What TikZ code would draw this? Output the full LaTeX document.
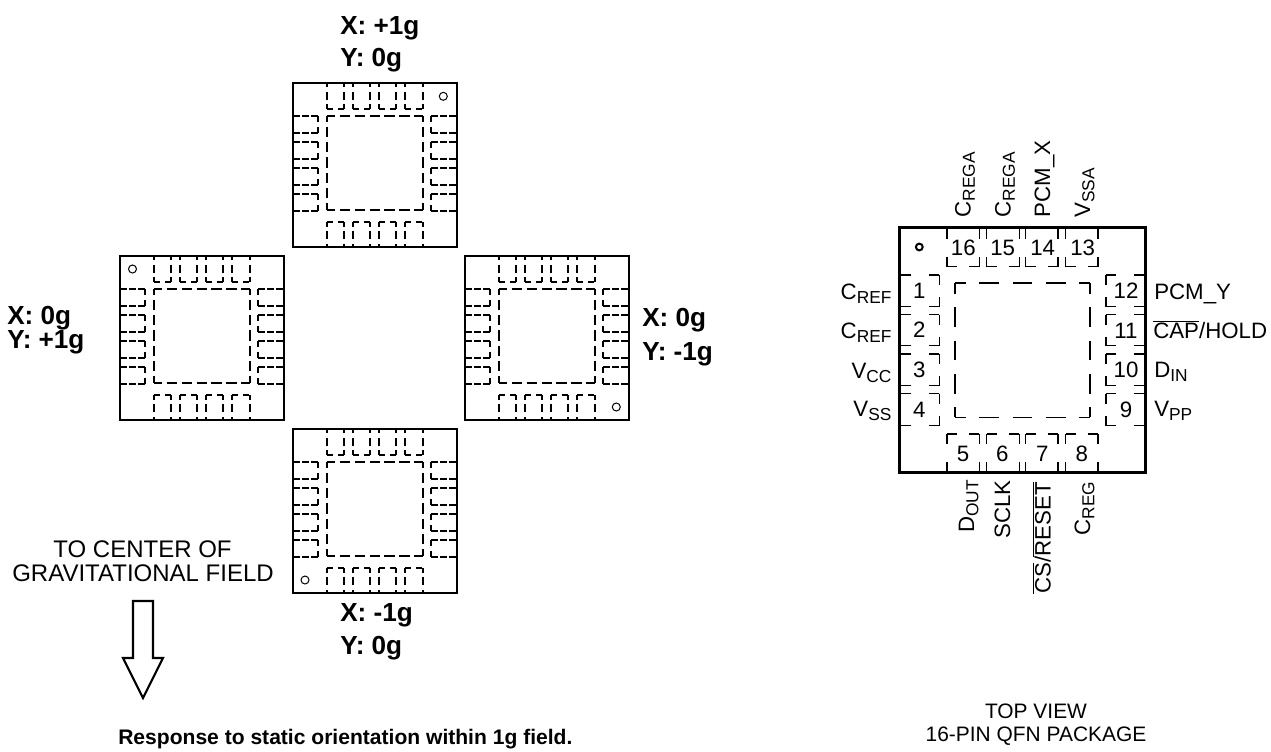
\documentclass[tikz,border=0pt]{standalone}
\usepackage{fontspec}
\setmainfont{Liberation Sans}
\newcommand{\fs}{\fontsize{16.7pt}{19pt}\selectfont}
\newcommand{\fc}{\fontsize{15.7pt}{18pt}\selectfont}
\newcommand{\fg}{\fontsize{18pt}{21pt}\selectfont}
\newcommand{\sbs}[1]{\raisebox{-3.2pt}{\fontsize{13pt}{15pt}\selectfont #1}}
\newcommand{\ovl}[1]{$\overline{\mbox{#1}}$}
\tikzset{
  txt/.style={inner sep=0pt,font=\fs},
  captxt/.style={inner sep=0pt,font=\fc},
  gravtxt/.style={inner sep=0pt,font=\fg},
  bcap/.style={inner sep=0pt,font=\fontsize{15.8pt}{18pt}\selectfont\bfseries},
  btxt/.style={inner sep=0pt,font=\fontsize{19.6pt}{22pt}\selectfont\bfseries},
  outer/.style={line width=1.6pt,line join=miter},
  padd/.style={line width=1.3pt},
  topdepth/.style={padd,dash pattern=on 4pt off 2.5pt on 6.5pt off 3.5pt on 10pt off 1pt},
  leftdepth/.style={padd,dash pattern=on 5pt off 1.75pt on 5.25pt off 1.75pt on 10pt off 1pt},
  padwide/.style={padd,dash pattern=on 4.5pt off 3.75pt on 4.5pt off 20pt},
  innerh/.style={padd,dash pattern=on 7.7pt off 3.5pt,dash phase=1.7pt},
  innerv/.style={padd,dash pattern=on 7.9pt off 3.6pt,dash phase=3.6pt},
  pindot/.style={line width=0.75pt},
  bigouter/.style={line width=2pt},
  bigpad/.style={line width=1pt},
  bigw/.style={bigpad,dash pattern=on 7.5pt off 9pt on 7.5pt off 30pt},
  bigd/.style={bigpad,dash pattern=on 7.5pt off 13.5pt on 8pt off 30pt},
  biginner/.style={bigpad,dash pattern=on 8pt off 10.3pt on 14.7pt off 10.3pt on 14.7pt off 10.3pt on 14.7pt off 10.3pt on 8pt off 30pt},
  bigarrow/.style={line width=1.6pt,line join=miter}
}
% small package: #1,#2 top-left corner; #3,#4 pin-dot position relative to corner
\newcommand{\pkg}[4]{%
\begin{scope}[shift={(#1,#2)}]
  \draw[outer] (0,0) rectangle (164,164);
  \foreach \a/\b in {34/51,60/77,86/103,112/130}{
    \draw[topdepth] (\a,26) -- (\a,0);
    \draw[topdepth] (\b,26) -- (\b,0);
    \draw[padwide] (\a,26) -- (\b,26);
    \draw[topdepth] (\a,139) -- (\a,164);
    \draw[topdepth] (\b,139) -- (\b,164);
    \draw[padwide] (\a,139) -- (\b,139);
  }
  \foreach \a/\b in {33/50,59/76,85/102,111/128}{
    \draw[leftdepth] (25,\a) -- (0,\a);
    \draw[leftdepth] (25,\b) -- (0,\b);
    \draw[padwide] (25,\a) -- (25,\b);
    \draw[leftdepth] (138,\a) -- (164,\a);
    \draw[leftdepth] (138,\b) -- (164,\b);
    \draw[padwide] (138,\a) -- (138,\b);
  }
  \draw[innerh] (34,33) -- (130,33);
  \draw[innerh] (34,127) -- (130,127);
  \draw[innerv] (34,33) -- (34,127);
  \draw[innerv] (130,33) -- (130,127);
  \draw[pindot] (#3,#4) circle (4);
\end{scope}}
\begin{document}
\begin{tikzpicture}[x=0.75pt,y=-0.75pt]
\useasboundingbox (0,0) rectangle (1271,751);
\pkg{293}{83}{150.3}{13.3}
\pkg{120}{256}{12.5}{13}
\pkg{465}{256}{151.3}{151}
\pkg{293}{429}{12}{151}

\node[btxt,anchor=base west] (t1) at (340,34.5) {X: +1g};
\node[btxt,anchor=base west] (t2) at (340,66) {Y: 0g};
\node[btxt,anchor=base west] (t3) at (7,324) {X: 0g};
\node[btxt,anchor=base west] (t4) at (7,348) {Y: +1g};
\node[btxt,anchor=base west] (t5) at (642,326.7) {X: 0g};
\node[btxt,anchor=base west] (t6) at (642,360.7) {Y: -1g};
\node[btxt,anchor=base west] (t7) at (340,621) {X: -1g};
\node[btxt,anchor=base west] (t8) at (340,654) {Y: 0g};
\node[gravtxt,anchor=base] (g1) at (142.5,557) {TO CENTER OF};
\node[gravtxt,anchor=base] (g2) at (143,581.7) {GRAVITATIONAL FIELD};
\node[bcap,anchor=base west] (cap) at (118,744.5) {Response to static orientation within 1g field.};
\node[captxt,anchor=base] (tv) at (1036,718) {TOP VIEW};
\node[captxt,anchor=base] (qfn) at (1036,741) {16-PIN QFN PACKAGE};

\draw[bigarrow] (133,601) -- (153,601) -- (153,658) -- (163,658) -- (143,698) -- (123,658) -- (133,658) -- cycle;

% large package
\draw[bigouter] (899.5,227.7) rectangle (1145.7,472.7);
\draw[line width=1.5pt] (919.3,247) circle (3.4);
\foreach \a/\b in {947/979.3,986.7/1019.3,1025.7/1058,1065.7/1098}{
  \draw[bigd] (\a,266.7) -- (\a,227.7);
  \draw[bigd] (\b,266.7) -- (\b,227.7);
  \draw[bigw] (\a,266.7) -- (\b,266.7);
  \draw[bigd] (\a,434) -- (\a,472.7);
  \draw[bigd] (\b,434) -- (\b,472.7);
  \draw[bigw] (\a,434) -- (\b,434);
}
\foreach \a/\b in {275/306.7,314.7/345.7,354/385.7,393.7/425.7}{
  \draw[bigd] (939.3,\a) -- (899.5,\a);
  \draw[bigd] (939.3,\b) -- (899.5,\b);
  \draw[bigw] (939.3,\a) -- (939.3,\b);
  \draw[bigd] (1106,\a) -- (1145.7,\a);
  \draw[bigd] (1106,\b) -- (1145.7,\b);
  \draw[bigw] (1106,\a) -- (1106,\b);
}
\draw[biginner] (955,283) -- (1090,283);
\draw[biginner] (955,417.3) -- (1090,417.3);
\draw[biginner] (955,283) -- (955,417.3);
\draw[biginner] (1090,283) -- (1090,417.3);

% pin numbers
\foreach \n/\x/\y in {16/963.3/255,15/1002.7/255,14/1042.7/255,13/1082.7/255,
  1/919.3/298.3,2/919.3/337.7,3/919.3/377.7,4/919.3/417,
  12/1126/298.3,11/1126/338,10/1126/377.7,9/1126/417.7,
  5/963/461,6/1002.3/461,7/1042.3/461,8/1081.7/461}{
  \node[txt,anchor=base] (n\n) at (\x,\y) {\n};
}
% left/right labels
\node[txt,anchor=base east] (l1) at (891.7,299) {C\sbs{REF}};
\node[txt,anchor=base east] (l2) at (891.7,338.7) {C\sbs{REF}};
\node[txt,anchor=base east] (l3) at (891.7,378) {V\sbs{CC}};
\node[txt,anchor=base east] (l4) at (891.7,416.7) {V\sbs{SS}};
\node[txt,anchor=base west] (r1) at (1154,299.3) {PCM\_Y};
\node[txt,anchor=base west] (r2) at (1153,338.3) {\ovl{CAP}/HOLD};
\node[txt,anchor=base west] (r3) at (1154,377.3) {D\sbs{IN}};
\node[txt,anchor=base west] (r4) at (1154,416.7) {V\sbs{PP}};
% rotated labels
\node[txt,anchor=base west,rotate=90] (u1) at (970.7,217.7) {C\sbs{REGA}};
\node[txt,anchor=base west,rotate=90] (u2) at (1010.7,217.7) {C\sbs{REGA}};
\node[txt,anchor=base west,rotate=90] (u3) at (1050,217.7) {PCM\_X};
\node[txt,anchor=base west,rotate=90] (u4) at (1090,218) {V\sbs{SSA}};
\node[txt,anchor=base west,rotate=90] (d1) at (974,533) {D\sbs{OUT}};
\node[txt,anchor=base west,rotate=90] (d2) at (1010,539) {SCLK};
\node[txt,anchor=base west,rotate=90] (d3) at (1050.7,594) {\ovl{CS}/\ovl{RESET}};
\node[txt,anchor=base west,rotate=90] (d4) at (1090,535.7) {C\sbs{REG}};
\end{tikzpicture}
\end{document}
